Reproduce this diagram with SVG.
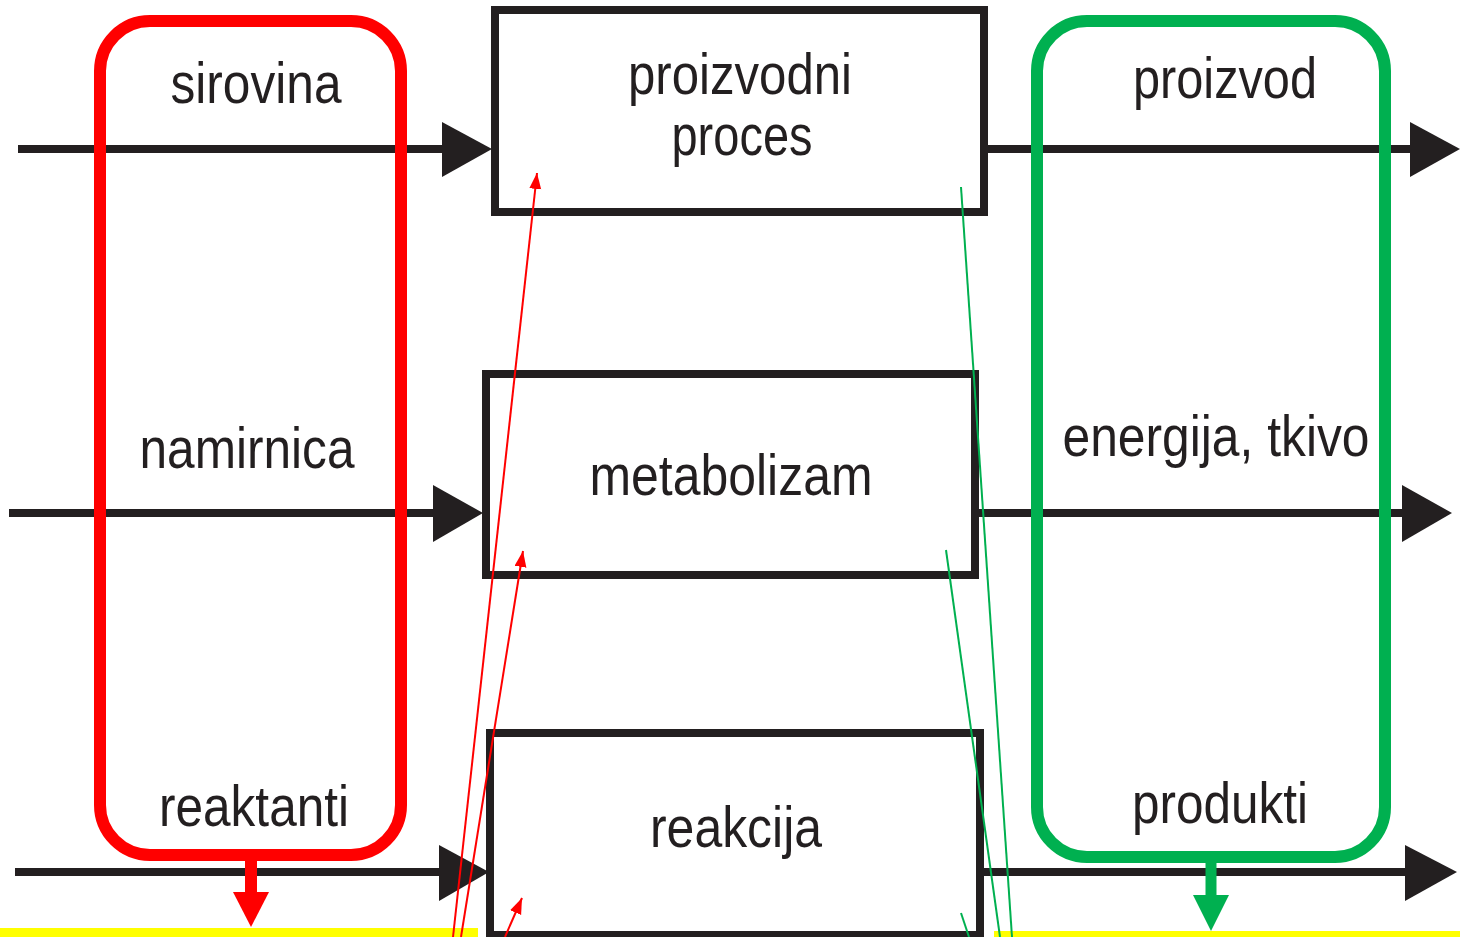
<svg xmlns="http://www.w3.org/2000/svg" width="1460" height="937" viewBox="0 0 1460 937">
  <style>
    .lbl { font-family: "Liberation Sans", Arial, sans-serif; font-size: 57px; fill: #231f20; text-anchor: middle; }
    .flow { stroke: #231f20; stroke-width: 8; fill: none; }
    .box { stroke: #231f20; stroke-width: 8; fill: #ffffff; }
    .head { fill: #231f20; }
    .thinr { stroke: #ff0000; stroke-width: 2; fill: none; }
    .thing { stroke: #00b050; stroke-width: 2; fill: none; }
  </style>
  <defs>
    <marker id="redTip" markerUnits="userSpaceOnUse" markerWidth="18" markerHeight="14" refX="16" refY="6" orient="auto">
      <path d="M0,0 L16,6 L0,12 z" fill="#ff0000"/>
    </marker>
  </defs>
  <rect width="1460" height="937" fill="#ffffff"/>

  <g id="flows">
    <line class="flow" x1="18" y1="149" x2="445" y2="149"/>
    <polygon class="head" points="442,122 492,149 442,177"/>
    <line class="flow" x1="984" y1="149" x2="1412" y2="149"/>
    <polygon class="head" points="1410,122 1460,149 1410,177"/>

    <line class="flow" x1="9" y1="513" x2="436" y2="513"/>
    <polygon class="head" points="433,485 483,513 433,542"/>
    <line class="flow" x1="975" y1="513" x2="1404" y2="513"/>
    <polygon class="head" points="1402,485 1452,513 1402,542"/>

    <line class="flow" x1="15" y1="872" x2="442" y2="872"/>
    <polygon class="head" points="439,845 489,872 439,901"/>
    <line class="flow" x1="980" y1="872" x2="1407" y2="872"/>
    <polygon class="head" points="1405,845 1457,872 1405,901"/>
  </g>

  <g id="proizvodni-proces">
    <rect class="box" x="495" y="10" width="489" height="202"/>
    <text class="lbl" x="740" y="94" textLength="224" lengthAdjust="spacingAndGlyphs">proizvodni</text>
    <text class="lbl" x="742" y="155" textLength="141" lengthAdjust="spacingAndGlyphs">proces</text>
  </g>
  <g id="metabolizam">
    <rect class="box" x="486" y="374" width="489" height="201"/>
    <text class="lbl" x="731" y="495" textLength="283" lengthAdjust="spacingAndGlyphs">metabolizam</text>
  </g>
  <g id="reakcija">
    <rect class="box" x="490" y="733" width="490" height="202"/>
    <text class="lbl" x="736" y="847" textLength="172" lengthAdjust="spacingAndGlyphs">reakcija</text>
  </g>

  <g id="ulazi">
    <rect x="100" y="21" width="301" height="834" rx="50" ry="50" fill="none" stroke="#ff0000" stroke-width="12"/>
    <text class="lbl" x="256" y="103" textLength="171" lengthAdjust="spacingAndGlyphs">sirovina</text>
    <text class="lbl" x="247" y="468" textLength="215" lengthAdjust="spacingAndGlyphs">namirnica</text>
    <text class="lbl" x="254" y="826" textLength="190" lengthAdjust="spacingAndGlyphs">reaktanti</text>
  </g>
  <g id="izlazi">
    <rect x="1037" y="21" width="348" height="836" rx="50" ry="50" fill="none" stroke="#00b050" stroke-width="12"/>
    <text class="lbl" x="1225" y="98" textLength="184" lengthAdjust="spacingAndGlyphs">proizvod</text>
    <text class="lbl" x="1216" y="456" textLength="307" lengthAdjust="spacingAndGlyphs">energija, tkivo</text>
    <text class="lbl" x="1220" y="823" textLength="176" lengthAdjust="spacingAndGlyphs">produkti</text>
  </g>

  <g id="yellow-left">
    <rect x="0" y="928" width="478" height="9" fill="#ffff00"/>
  </g>
  <g id="yellow-right">
    <rect x="994" y="931" width="466" height="6" fill="#ffff00"/>
  </g>

  <g id="connectors">
    <line x1="251" y1="855" x2="251" y2="895" stroke="#ff0000" stroke-width="12"/>
    <polygon points="233,892 269,892 251,927" fill="#ff0000"/>
    <line x1="1211" y1="857" x2="1211" y2="898" stroke="#00b050" stroke-width="11"/>
    <polygon points="1193,895 1229,895 1211,931" fill="#00b050"/>

    <line class="thinr" x1="453" y1="937" x2="537" y2="173" marker-end="url(#redTip)"/>
    <line class="thinr" x1="461" y1="937" x2="523" y2="551" marker-end="url(#redTip)"/>
    <line class="thinr" x1="505" y1="937" x2="522" y2="898" marker-end="url(#redTip)"/>

    <line class="thing" x1="961" y1="187" x2="1012" y2="937"/>
    <line class="thing" x1="946" y1="550" x2="1000" y2="937"/>
    <line class="thing" x1="961" y1="913" x2="969" y2="937"/>
  </g>
</svg>
